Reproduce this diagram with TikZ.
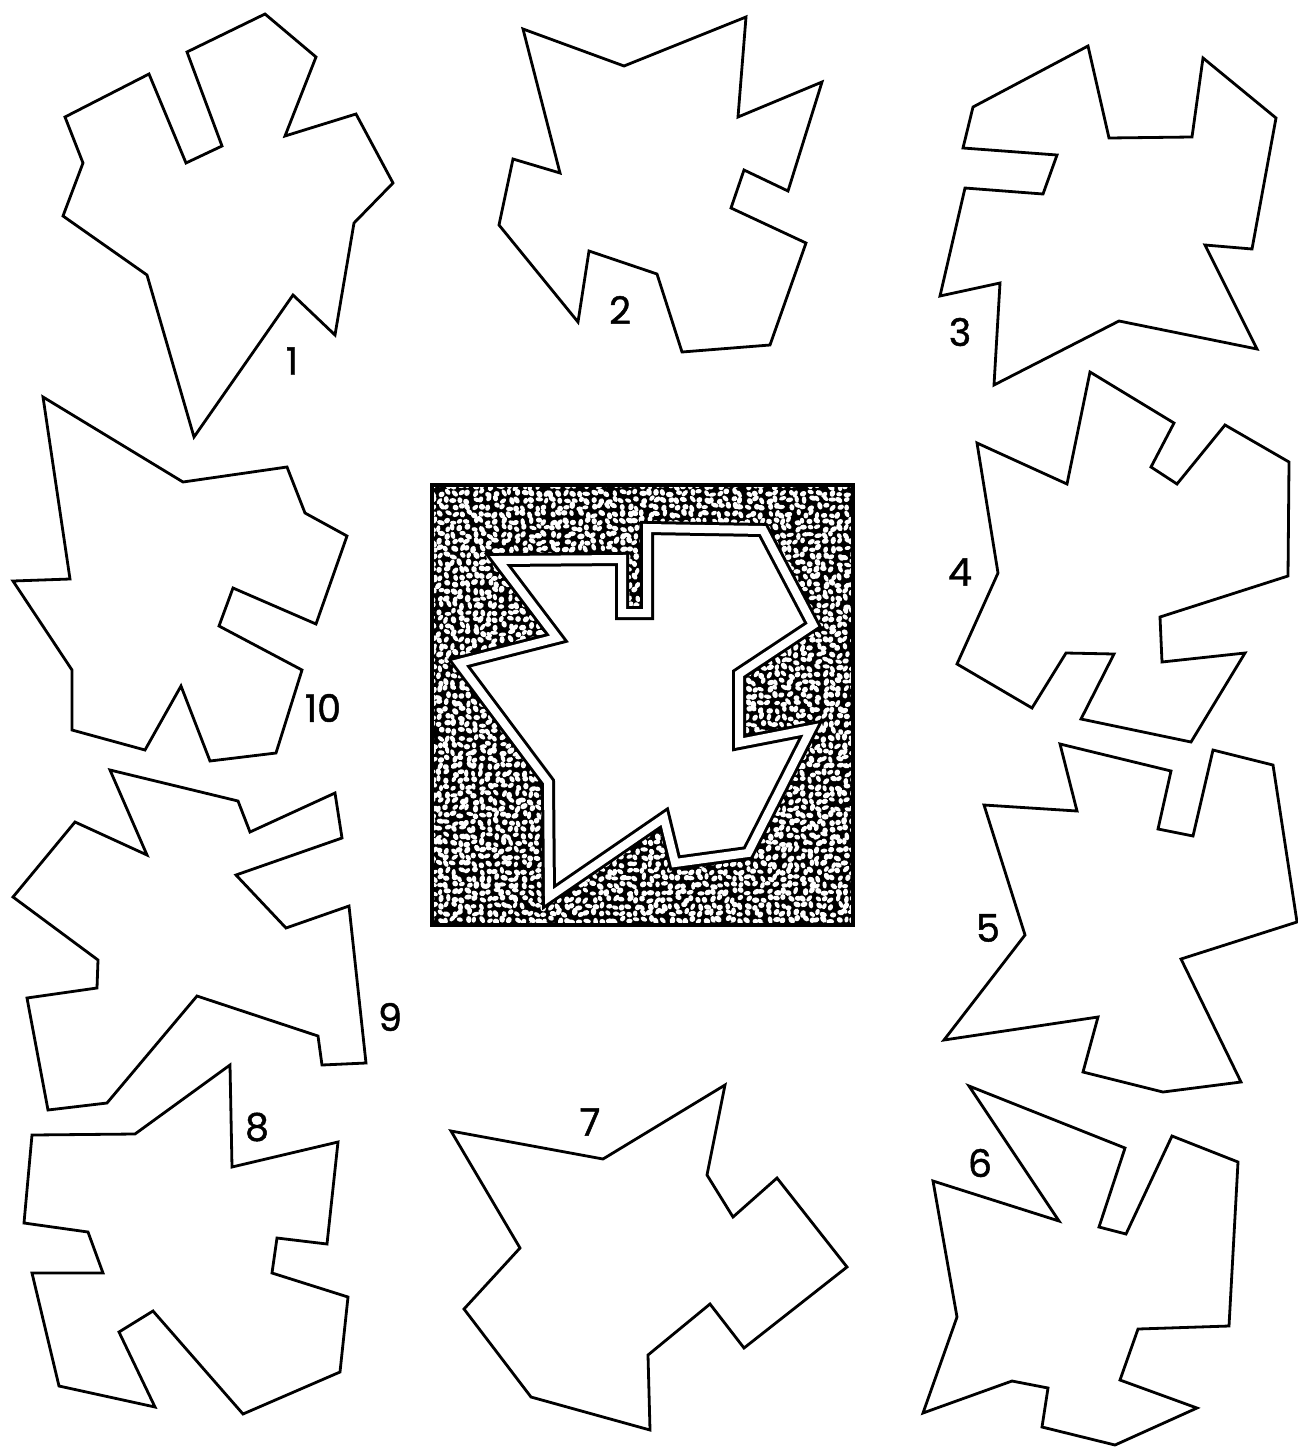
\documentclass[tikz,border=0pt]{standalone}
\usepackage{fontspec}
\setmainfont{Poppins}[FakeBold=1.2]
\begin{document}
\begin{tikzpicture}[x=1pt,y=-1pt,
  shp/.style={draw=black,line width=2.8pt,line join=miter},
  lbl/.style={font=\fontsize{38}{40}\selectfont,text=black,inner sep=0pt}]
\useasboundingbox[fill=white] (0,0) rectangle (1298,1448);

% Shape 1
\draw[shp] (187,52)--(265,14)--(316,57)--(285,136)--(356,114)--(393,183)--(354,223)--(335,335)--(293,295)--(194,437)--(147,275)--(63,216)--(83,163)--(65,117)--(149,74)--(186,163)--(222,146)--cycle;
% Shape 2
\draw[shp] (523,29)--(624,66)--(746,17)--(738,117)--(822,82)--(788,191)--(744,170)--(731,208)--(806,243)--(770,345)--(682,352)--(657,274)--(589,251)--(578,322)--(499,225)--(513,159)--(560,173)--cycle;
% Shape 3
\draw[shp] (973,107)--(1088,46)--(1109,138)--(1192,137)--(1203,58)--(1276,118)--(1252,249)--(1205,245)--(1257,349)--(1119,321)--(994,385)--(1000,283)--(940,296)--(965,188)--(1043,194)--(1057,155)--(963,148)--cycle;
% Shape 4
\draw[shp] (977,443)--(1067,484)--(1090,372)--(1174,423)--(1151,467)--(1177,484)--(1225,425)--(1289,462)--(1288,576)--(1160,617)--(1162,662)--(1245,653)--(1191,742)--(1081,719)--(1114,654)--(1066,653)--(1032,708)--(957,664)--(998,573)--cycle;
% Shape 5
\draw[shp] (1060,744)--(1171,771)--(1158,829)--(1193,836)--(1213,750)--(1273,765)--(1297,922)--(1181,959)--(1241,1082)--(1163,1092)--(1083,1072)--(1098,1017)--(944,1040)--(1025,935)--(984,805)--(1077,811)--cycle;
% Shape 6
\draw[shp] (969,1086)--(1125,1148)--(1099,1227)--(1126,1234)--(1172,1136)--(1238,1162)--(1229,1326)--(1138,1329)--(1120,1380)--(1197,1408)--(1115,1445)--(1042,1427)--(1048,1388)--(1012,1381)--(923,1413)--(957,1317)--(933,1181)--(1059,1221)--cycle;
% Shape 7
\draw[shp] (451,1131)--(603,1159)--(725,1085)--(707,1175)--(733,1217)--(777,1178)--(847,1267)--(744,1348)--(710,1304)--(648,1355)--(650,1430)--(531,1397)--(464,1309)--(520,1248)--cycle;
% Shape 8
\draw[shp] (32,1135)--(135,1134)--(230,1065)--(232,1167)--(338,1142)--(327,1244)--(277,1238)--(272,1273)--(348,1297)--(340,1372)--(243,1414)--(153,1311)--(119,1332)--(155,1407)--(59,1386)--(32,1273)--(103,1273)--(88,1232)--(24,1223)--cycle;
% Shape 9
\draw[shp] (110,770)--(238,801)--(250,832)--(335,793)--(342,838)--(236,875)--(286,928)--(349,906)--(366,1063)--(322,1065)--(318,1036)--(197,996)--(107,1103)--(48,1110)--(27,998)--(97,988)--(98,960)--(13,897)--(75,822)--(147,855)--cycle;
% Shape 10
\draw[shp] (43,397)--(183,482)--(287,467)--(305,513)--(347,536)--(316,624)--(233,588)--(219,626)--(302,670)--(276,753)--(210,761)--(181,686)--(145,750)--(72,730)--(72,670)--(13,581)--(70,579)--cycle;

% Centre textured square
\begin{scope}
\clip (432,485) rectangle (853,925);
\fill[black] (432,485) rectangle (853,925);
\pgfmathsetseed{7}
\foreach \i in {0,...,60}{
  \foreach \j in {0,...,63}{
    \pgfmathsetmacro{\cx}{433+\i*7+2*rand}
    \pgfmathsetmacro{\cy}{486+\j*7+2*rand}
    \pgfmathsetmacro{\rx}{2.9+1.1*rnd}
    \pgfmathsetmacro{\ry}{2.0+0.9*rnd}
    \pgfmathsetmacro{\ang}{180*rnd}
    \fill[white,rotate around={\ang:(\cx,\cy)}] (\cx,\cy) ellipse [x radius=\rx, y radius=\ry];
  }
}
\end{scope}
\draw[black,line width=3.5pt] (432,485) rectangle (853,925);
\def\midpoly{(498,560)--(622,559)--(622,613)--(647,613)--(647,528)--(763,530)--(813,625)--(739,674)--(739,743)--(811,729)--(748,853)--(675,863)--(664,818)--(549,897)--(548,782)--(459,663)--(557,638)--cycle}
\fill[white] \midpoly;
\draw[black,line width=14pt,line join=miter,miter limit=20] \midpoly;
\draw[white,line width=8pt,line join=miter,miter limit=20] \midpoly;

% Labels
\node[lbl] (l1) at (292,361) {1};
\node[lbl] (l2) at (620,310) {2};
\node[lbl] (l3) at (960,332) {3};
\node[lbl] (l4) at (960,572) {4};
\node[lbl] (l5) at (988,928) {5};
\node[lbl] (l6) at (980,1163) {6};
\node[lbl] (l7) at (590,1122) {7};
\node[lbl] (l8) at (257,1127) {8};
\node[lbl] (l9) at (390,1017) {9};
\node[lbl] (l10) at (323,708) {10};
\end{tikzpicture}
\end{document}
